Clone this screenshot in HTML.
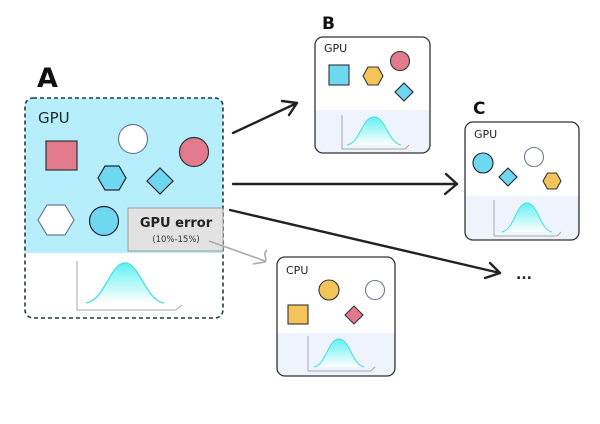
<!DOCTYPE html>
<html><head><meta charset="utf-8"><style>
html,body{margin:0;padding:0;background:#fff;}
svg{display:block;}
text{font-family:"DejaVu Sans","Liberation Sans",sans-serif;}
</style></head><body>
<svg width="600" height="424" viewBox="0 0 600 424" xmlns="http://www.w3.org/2000/svg">
<defs>
<linearGradient id="g" x1="0" y1="0" x2="0" y2="1">
<stop offset="0" stop-color="#5ff0f0"/><stop offset="1" stop-color="#ffffff" stop-opacity="0.9"/>
</linearGradient>
<clipPath id="cA"><rect x="25" y="98" width="198" height="220" rx="8"/></clipPath>
</defs>

<!-- A -->
<text x="37" y="87" font-size="27" font-weight="bold" fill="#111">A</text>
<g clip-path="url(#cA)">
<rect x="25" y="98" width="198" height="155" fill="#b7eefb"/>
</g>
<rect x="25" y="98" width="198" height="220" rx="8" fill="none" stroke="#223a44" stroke-width="1.6" stroke-dasharray="4,3"/>
<text x="38" y="123" font-size="15" fill="#1a2a30">GPU</text>
<rect x="46" y="141" width="31" height="29" fill="#e07a8c" stroke="#333" stroke-width="1.2"/>
<circle cx="133" cy="139" r="14.5" fill="#fff" stroke="#6a7a9a" stroke-width="1.2"/>
<circle cx="194" cy="152" r="14.5" fill="#e07a8c" stroke="#333" stroke-width="1.2"/>
<polygon points="98,178 105,166 119,166 126,178 119,190 105,190" fill="#6dd8f0" stroke="#223" stroke-width="1.2"/>
<polygon points="160,168 173,181 160,194 147,181" fill="#6dd8f0" stroke="#223" stroke-width="1.2"/>
<polygon points="38,220 47,205 65,205 74,220 65,235 47,235" fill="#fff" stroke="#6a7a9a" stroke-width="1.2"/>
<circle cx="104" cy="221" r="14.5" fill="#6dd8f0" stroke="#223" stroke-width="1.2"/>
<rect x="128" y="208" width="95" height="43" fill="#e2e2e2" stroke="#888" stroke-width="0.8"/>
<text x="176" y="227" font-size="13" font-weight="bold" text-anchor="middle" fill="#222">GPU error</text>
<text x="176" y="242" font-size="8.5" text-anchor="middle" fill="#333">(10%-15%)</text>
<path d="M77,261 L77,310 L176,310 L182,305" fill="none" stroke="#aaa" stroke-width="1"/>
<path d="M86,303 C105,300 110,263 125,263 C140,263 145,300 164,303 Z" fill="url(#g)"/>
<path d="M86,303 C105,300 110,263 125,263 C140,263 145,300 164,303" fill="none" stroke="#3fe0e8" stroke-width="1.2"/>

<!-- Arrows -->
<g stroke="#222" stroke-width="2.4" fill="none" stroke-linecap="round" stroke-linejoin="round">
<path d="M233,133 L297,103"/><path d="M282,101 L297,103 L289,115"/>
<path d="M233,184 L457,184"/><path d="M446,174 L457,184 L445,194"/>
<path d="M230,210 L500,273"/><path d="M490,263 L500,273 L485,278"/>
</g>
<path d="M209,241 L265,261" stroke="#aaa" stroke-width="1.6" fill="none"/>
<path d="M267,250 C262,255 268,258 265,262 L253,264" stroke="#aaa" stroke-width="1.6" fill="none"/>
<text x="516" y="279" font-size="14" font-weight="bold" fill="#222">...</text>

<!-- B -->
<text x="322" y="29" font-size="17" font-weight="bold" fill="#111">B</text>
<rect x="315" y="37" width="115" height="116" rx="8" fill="#fff"/>
<path d="M315,110 L430,110 L430,145 A8,8 0 0 1 422,153 L323,153 A8,8 0 0 1 315,145 Z" fill="#eef3fc"/>
<rect x="315" y="37" width="115" height="116" rx="8" fill="none" stroke="#333" stroke-width="1.3"/>
<text x="324" y="52" font-size="11" fill="#222">GPU</text>
<rect x="329" y="65" width="20" height="20" fill="#6dd8f0" stroke="#333" stroke-width="1.1"/>
<polygon points="363,76 368,67 378,67 383,76 378,85 368,85" fill="#f2c45a" stroke="#333" stroke-width="1.1"/>
<circle cx="400" cy="61" r="9.5" fill="#e07a8c" stroke="#333" stroke-width="1.1"/>
<polygon points="404,83 413,92 404,101 395,92" fill="#6dd8f0" stroke="#223" stroke-width="1.1"/>
<path d="M342,115 L342,149 L405,149 L409,145" fill="none" stroke="#aaa" stroke-width="1"/>
<path d="M347,145 C360,143 362,117 374,117 C386,117 388,143 401,145 Z" fill="url(#g)"/>
<path d="M347,145 C360,143 362,117 374,117 C386,117 388,143 401,145" fill="none" stroke="#3fe0e8" stroke-width="1"/>

<!-- C -->
<text x="473" y="114" font-size="17" font-weight="bold" fill="#111">C</text>
<rect x="465" y="122" width="114" height="118" rx="8" fill="#fff"/>
<path d="M465,196 L579,196 L579,232 A8,8 0 0 1 571,240 L473,240 A8,8 0 0 1 465,232 Z" fill="#eef3fc"/>
<rect x="465" y="122" width="114" height="118" rx="8" fill="none" stroke="#333" stroke-width="1.3"/>
<text x="474" y="138" font-size="11" fill="#222">GPU</text>
<circle cx="483" cy="163" r="10" fill="#6dd8f0" stroke="#223" stroke-width="1.1"/>
<circle cx="534" cy="157" r="9.5" fill="#fff" stroke="#6a7a9a" stroke-width="1.1"/>
<polygon points="508,168 517,177 508,186 499,177" fill="#6dd8f0" stroke="#223" stroke-width="1.1"/>
<polygon points="543,181 547.5,173 556.5,173 561,181 556.5,189 547.5,189" fill="#f2c45a" stroke="#333" stroke-width="1.1"/>
<path d="M494,200 L494,236 L557,236 L561,232" fill="none" stroke="#aaa" stroke-width="1"/>
<path d="M502,232 C514,230 516,203 527,203 C538,203 540,230 552,232 Z" fill="url(#g)"/>
<path d="M502,232 C514,230 516,203 527,203 C538,203 540,230 552,232" fill="none" stroke="#3fe0e8" stroke-width="1"/>

<!-- CPU -->
<rect x="277" y="257" width="118" height="119" rx="8" fill="#fff"/>
<path d="M277,333 L395,333 L395,368 A8,8 0 0 1 387,376 L285,376 A8,8 0 0 1 277,368 Z" fill="#eef3fc"/>
<rect x="277" y="257" width="118" height="119" rx="8" fill="none" stroke="#333" stroke-width="1.3"/>
<text x="286" y="274" font-size="11" fill="#222">CPU</text>
<circle cx="329" cy="290" r="10" fill="#f2c45a" stroke="#333" stroke-width="1.1"/>
<circle cx="375" cy="290" r="9.5" fill="#fff" stroke="#6a7a9a" stroke-width="1.1"/>
<rect x="288" y="305" width="20" height="19" fill="#f2c45a" stroke="#333" stroke-width="1.1"/>
<polygon points="354,306 363,315 354,324 345,315" fill="#e07a8c" stroke="#333" stroke-width="1.1"/>
<path d="M308,336 L308,371 L371,371 L375,367" fill="none" stroke="#aaa" stroke-width="1"/>
<path d="M314,367 C326,365 328,339 339,339 C350,339 352,365 364,367 Z" fill="url(#g)"/>
<path d="M314,367 C326,365 328,339 339,339 C350,339 352,365 364,367" fill="none" stroke="#3fe0e8" stroke-width="1"/>
</svg>
</body></html>
